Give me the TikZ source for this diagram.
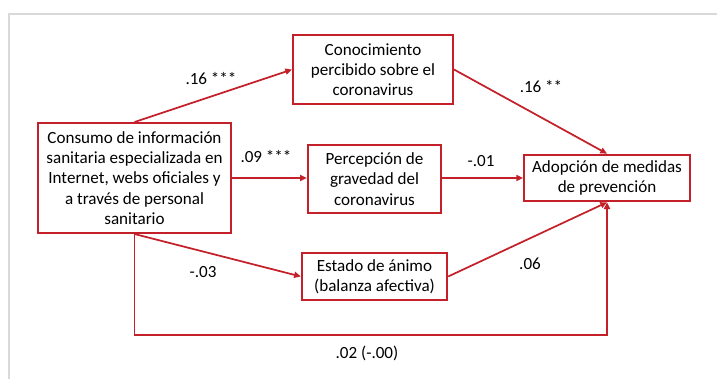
\documentclass[tikz,border=0pt]{standalone}
\usepackage{fontspec}
\setmainfont{Carlito}
\usetikzlibrary{arrows.meta}
\definecolor{boxred}{RGB}{196,32,42}
\definecolor{framegray}{RGB}{217,217,217}
\tikzset{
  box/.style={draw=boxred, line width=1.5pt, align=center, inner sep=2pt},
  link/.style={draw=boxred, line width=1.3pt, -{Triangle[length=5pt,width=4.5pt]}},
  coef/.style={inner sep=1pt}
}
\begin{document}
\begin{tikzpicture}[x=0.75pt, y=-0.75pt, font=\fontsize{12.8}{15.2}\selectfont]
\useasboundingbox (0,0) rectangle (717,379);
% Frame
\draw[framegray, line width=1.2pt] (717,14) -- (9,14) -- (9,379);

% Define the nodes
\node (consumo) [box, minimum width=145pt, minimum height=82.5pt] at (134.5,178) {Consumo de información\\sanitaria especializada en\\Internet, webs oficiales y\\a través de personal\\sanitario};
\node (conoc) [box, minimum width=120pt, minimum height=52pt] at (373,69.5) {Conocimiento\\percibido sobre el\\coronavirus};
\node (percep) [box, minimum width=100pt, minimum height=51pt] at (374.5,179) {Percepción de\\gravedad del\\coronavirus};
\node (estado) [box, minimum width=109pt, minimum height=35pt] at (374.5,276.5) {Estado de ánimo\\(balanza afectiva)};
\node (adopcion) [box, minimum width=124.5pt, minimum height=35pt] at (607,178) {Adopción de medidas\\de prevención};

% Connect the nodes
\draw[link] (consumo.north) -- (conoc.west);
\draw[link] (conoc.east) -- (adopcion.north);
\draw[link] (consumo.east) -- (consumo.east -| percep.west);
\draw[link] (percep.east |- adopcion.west) -- (adopcion.west);
\draw[link] (consumo.south) -- (estado.west);
\draw[link] (estado.east) -- (adopcion.south);
\draw[link] (consumo.south) -- (consumo.south |- 0,335) -| (adopcion.south);

% Coefficients
\node (c1) [coef] at (211,79) {.16 ***};
\node (c2) [coef] at (541,87) {.16 **};
\node (c3) [coef] at (266,157) {.09 ***};
\node (c4) [coef] at (481,161) {-.01};
\node (c5) [coef] at (203,272) {-.03};
\node (c6) [coef] at (530,264) {.06};
\node (c7) [coef] at (367,353) {.02 (-.00)};
\end{tikzpicture}
\end{document}
